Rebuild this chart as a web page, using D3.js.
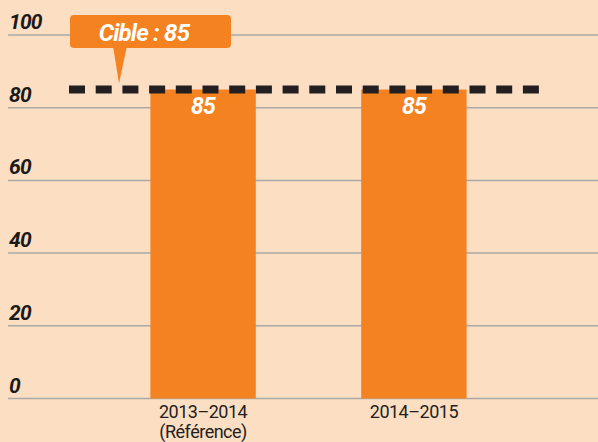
<!DOCTYPE html>
<html>
<head>
<meta charset="utf-8">
<script src="https://cdn.jsdelivr.net/npm/d3@7"></script>
<style>
  body { margin: 0; background: #fff; }
  svg { display: block; }
</style>
</head>
<body>
<svg width="598" height="442"></svg>
<script>
const categories = [["2013\u20132014", "(R\u00e9f\u00e9rence)"], ["2014\u20132015"]];
const values = [85, 85];
const target = 85;
const targetLabel = "Cible : 85";
const yTicks = [0, 20, 40, 60, 80, 100];

const svg = d3.select("svg"),
  width = 598, height = 442;

const font = "Roboto, 'Noto Sans', sans-serif";

svg.append("rect")
  .attr("width", width).attr("height", height)
  .attr("fill", "#fcdec3");

const keys = categories.map(c => c.join(" "));

const xScale = d3.scaleBand()
  .domain(keys)
  .range([45, 572])
  .paddingInner(0.5)
  .paddingOuter(0.5);

const yScale = d3.scaleLinear()
  .domain([0, 100])
  .range([398.5, 35]);

// grid lines
svg.append("g")
  .selectAll("line")
  .data(yTicks)
  .join("line")
  .attr("x1", 8).attr("x2", width)
  .attr("y1", d => yScale(d)).attr("y2", d => yScale(d))
  .attr("stroke", "#a9a8a6")
  .attr("stroke-width", 1.5);

// tick labels
svg.append("g")
  .selectAll("text")
  .data(yTicks)
  .join("text")
  .attr("x", 9)
  .attr("y", d => yScale(d) - 6)
  .attr("font-family", font)
  .attr("font-size", 21)
  .attr("letter-spacing", -0.8)
  .attr("font-weight", "bold")
  .attr("font-style", "italic")
  .attr("fill", "#1a1a1a")
  .text(d => d);

// bars
svg.append("g")
  .selectAll("rect")
  .data(values)
  .join("rect")
  .attr("x", (d, i) => xScale(keys[i]))
  .attr("width", xScale.bandwidth())
  .attr("y", d => yScale(d))
  .attr("height", d => yScale(0) - yScale(d))
  .attr("fill", "#f58220");

// value labels
svg.append("g")
  .selectAll("text")
  .data(values)
  .join("text")
  .attr("x", (d, i) => xScale(keys[i]) + xScale.bandwidth() / 2)
  .attr("y", d => yScale(d) + 24)
  .attr("text-anchor", "middle")
  .attr("font-family", font)
  .attr("font-size", 23)
  .attr("letter-spacing", -0.8)
  .attr("font-weight", "bold")
  .attr("font-style", "italic")
  .attr("fill", "#fff")
  .text(d => d);

// category labels
const xl = svg.append("g")
  .selectAll("text")
  .data(categories)
  .join("text")
  .attr("text-anchor", "middle")
  .attr("font-family", font)
  .attr("font-size", 18)
  .attr("letter-spacing", -0.5)
  .attr("fill", "#231f20");
xl.selectAll("tspan")
  .data((d, i) => d.map(t => ({ t, i })))
  .join("tspan")
  .attr("x", d => xScale(keys[d.i]) + xScale.bandwidth() / 2)
  .attr("y", (d, j) => 418 + j * 20)
  .text(d => d.t);

// target line
const ty = yScale(target);
svg.append("line")
  .attr("x1", 69).attr("x2", 540)
  .attr("y1", ty).attr("y2", ty)
  .attr("stroke", "#231f20")
  .attr("stroke-width", 8)
  .attr("stroke-dasharray", "16,10.7");

// callout
const callout = svg.append("g");
callout.append("path")
  .attr("d", `M113,46 L127,46 L119,${ty - 6} Z`)
  .attr("fill", "#f58220");
callout.append("rect")
  .attr("x", 70).attr("y", 15)
  .attr("width", 161).attr("height", 33)
  .attr("rx", 4)
  .attr("fill", "#f58220");
callout.append("text")
  .attr("x", 144).attr("y", 41)
  .attr("text-anchor", "middle")
  .attr("font-family", font)
  .attr("font-size", 24)
  .attr("letter-spacing", -0.8)
  .attr("font-weight", "bold")
  .attr("font-style", "italic")
  .attr("fill", "#fff")
  .text(targetLabel);
</script>
</body>
</html>
